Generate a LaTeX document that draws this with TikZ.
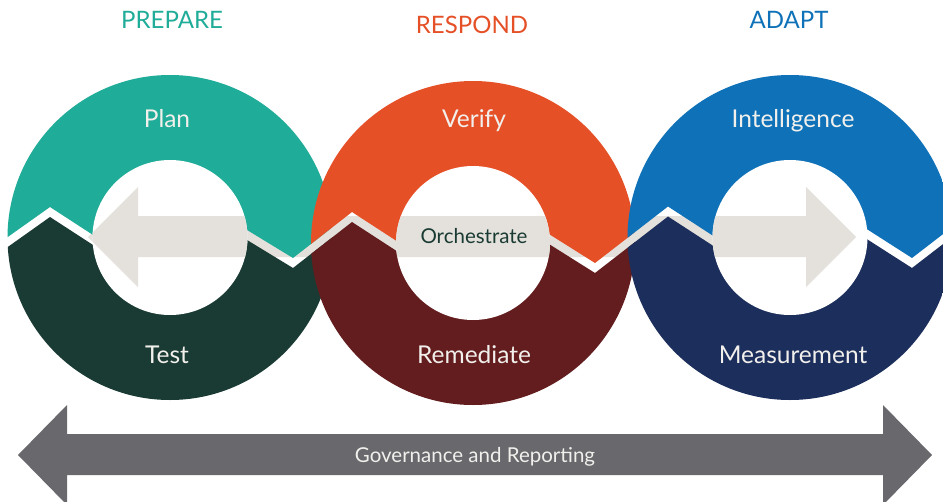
\documentclass[tikz,border=0pt]{standalone}
\usepackage{fontspec}
\setmainfont{Lato}
\definecolor{cteal}{HTML}{1FAC98}
\definecolor{cdgreen}{HTML}{1A3B33}
\definecolor{corange}{HTML}{E55027}
\definecolor{cdred}{HTML}{631D1E}
\definecolor{cblue}{HTML}{0F72B8}
\definecolor{cnavy}{HTML}{1C2E5B}
\definecolor{cband}{HTML}{E4E1DC}
\definecolor{cgray}{HTML}{68686D}
\definecolor{clabel}{HTML}{F2F0EC}
\tikzset{
  ringlabel/.style={text=clabel, inner sep=0pt, anchor=base, font=\fontsize{24.5}{24.5}\selectfont},
  title/.style={inner sep=0pt, anchor=base, font=\fontsize{24}{24}\selectfont},
  smalllabel/.style={inner sep=0pt, anchor=base, font=\fontsize{20.5}{20.5}\selectfont},
}
\def\upperpoly{(-10,-10) -- (-10,249.6) -- (50,207) -- (110,246) -- (230,219.6) -- (293,258) -- (352,212) -- (412,251) -- (533,224) -- (595,263) -- (668,206.5) -- (728,245.5) -- (850,218.3) -- (912,258) -- (960,221) -- (960,-10) -- cycle}
\def\lowerpoly{(-10,520) -- (-10,259.6) -- (50,217) -- (110,256) -- (230,229.6) -- (293,268) -- (352,222) -- (412,261) -- (533,234) -- (595,273) -- (668,216.5) -- (728,255.5) -- (850,228.3) -- (912,268) -- (960,231) -- (960,520) -- cycle}
\def\bandshape{(88,237) -- (138,187) -- (138,216) -- (806,216) -- (806,187) -- (856,237) -- (806,287) -- (806,257) -- (138,257) -- (138,287) -- cycle}
\begin{document}
\begin{tikzpicture}[x=1pt,y=-1pt]
\useasboundingbox (0,0) rectangle (943,501);
\clip (0,0) rectangle (943,501);
\fill[white] (0,0) rectangle (943,501);
% band behind the rings
\fill[cband] \bandshape;
% rings
\coordinate (c1) at (170,237.5);
\coordinate (c2) at (473,243);
\coordinate (c3) at (790,237.5);
\begin{scope}
  \clip (c1) circle (162.5);
  \fill[cteal] \upperpoly;
  \fill[cdgreen] \lowerpoly;
\end{scope}
\begin{scope}
  \clip (c2) circle (162);
  \fill[corange] \upperpoly;
  \fill[cdred] \lowerpoly;
\end{scope}
\begin{scope}
  \clip (c3) circle (162.5);
  \fill[cblue] \upperpoly;
  \fill[cnavy] \lowerpoly;
\end{scope}
% holes
\begin{scope}
  \clip (c1) circle (77.5) (c2) circle (77) (c3) circle (77.5);
  \fill[white] (0,0) rectangle (943,501);
  \fill[cband] \bandshape;
\end{scope}
% bottom arrow
\fill[cgray] (18,455) -- (67,405) -- (67,434) -- (883,434) -- (883,405) -- (932,455) -- (883,505) -- (883,475) -- (67,475) -- (67,505) -- cycle;
% titles
\node[title, text=cteal] (prepare) at (172,28) {PREPARE};
\node[title, text=corange] (respond) at (472,33) {RESPOND};
\node[title, text=cblue] (adapt) at (789,28) {ADAPT};
% ring labels
\node[ringlabel] (plan) at (167,127) {Plan};
\node[ringlabel] (test) at (167,363) {Test};
\node[ringlabel] (verify) at (474,127) {Verify};
\node[ringlabel] (remediate) at (474,363) {Remediate};
\node[ringlabel] (intel) at (793,127) {Intelligence};
\node[ringlabel] (measure) at (793,363) {Measurement};
\node[smalllabel, text=cdgreen] (orch) at (474,243) {Orchestrate};
\node[smalllabel, text=clabel] (gov) at (475,462) {Governance and Reporting};
\end{tikzpicture}
\end{document}
